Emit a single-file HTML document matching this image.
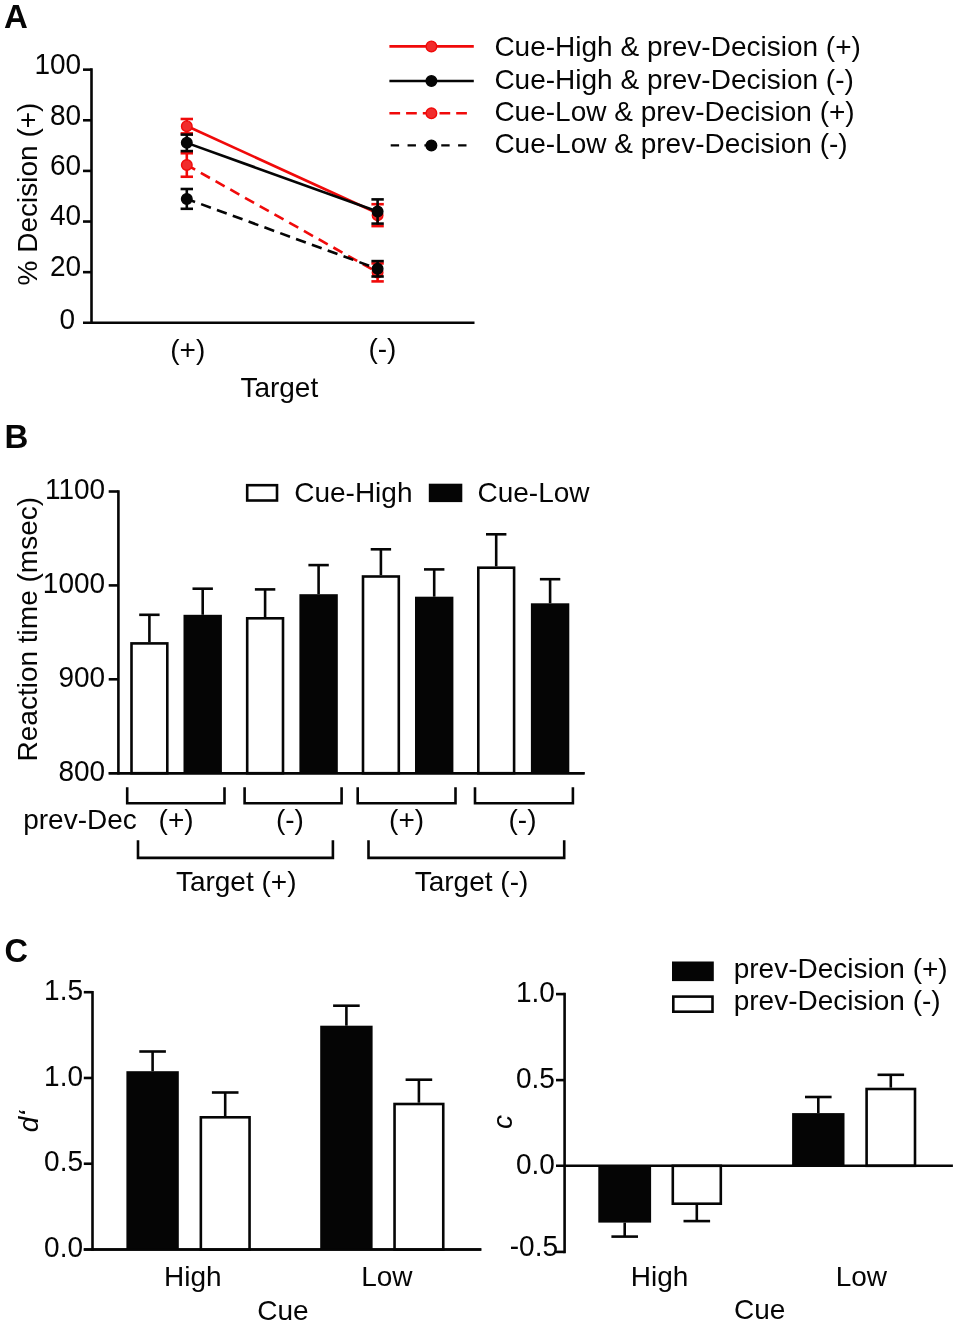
<!DOCTYPE html>
<html lang="en">
<head>
<meta charset="utf-8">
<title>Figure</title>
<style>
html,body{margin:0;padding:0;background:#fff;}
body{width:957px;height:1325px;overflow:hidden;}
svg{display:block;}
svg text{font-family:"Liberation Sans",Arial,Helvetica,sans-serif;font-size:28px;fill:#050505;}
</style>
</head>
<body>
<svg width="957" height="1325" viewBox="0 0 957 1325">
<rect x="0" y="0" width="957" height="1325" fill="#ffffff"/>
<text x="3.9" y="28.4" text-anchor="start" style="font-weight:bold;font-size:33px">A</text>
<line x1="91.5" y1="68.35000000000001" x2="91.5" y2="324.1" stroke="#050505" stroke-width="2.6" />
<line x1="83.0" y1="322.8" x2="474.5" y2="322.8" stroke="#050505" stroke-width="2.6" />
<line x1="83.0" y1="272.17" x2="91.5" y2="272.17" stroke="#050505" stroke-width="2.6" />
<line x1="83.0" y1="221.54000000000002" x2="91.5" y2="221.54000000000002" stroke="#050505" stroke-width="2.6" />
<line x1="83.0" y1="170.91000000000003" x2="91.5" y2="170.91000000000003" stroke="#050505" stroke-width="2.6" />
<line x1="83.0" y1="120.28" x2="91.5" y2="120.28" stroke="#050505" stroke-width="2.6" />
<line x1="83.0" y1="69.65" x2="91.5" y2="69.65" stroke="#050505" stroke-width="2.6" />
<text transform="translate(81.1 275.6) scale(1 1.04)" text-anchor="end">20</text>
<text transform="translate(81.1 225.2) scale(1 1.04)" text-anchor="end">40</text>
<text transform="translate(81.1 174.9) scale(1 1.04)" text-anchor="end">60</text>
<text transform="translate(81.1 124.7) scale(1 1.04)" text-anchor="end">80</text>
<text transform="translate(81.1 74.0) scale(1 1.04)" text-anchor="end">100</text>
<text transform="translate(75.2 329.1) scale(1 1.04)" text-anchor="end">0</text>
<text transform="translate(36.8 194.0) rotate(-90)" text-anchor="middle" >% Decision (+)</text>
<text x="187.8" y="358.7" text-anchor="middle" >(+)</text>
<text x="382.4" y="358.1" text-anchor="middle" >(-)</text>
<text x="279.3" y="397.0" text-anchor="middle" >Target</text>
<line x1="186.8" y1="126.0" x2="377.6" y2="213.3" stroke="#f00a0a" stroke-width="2.6" />
<line x1="186.8" y1="119.0" x2="186.8" y2="133.4" stroke="#f00a0a" stroke-width="2.6" />
<line x1="180.60000000000002" y1="119.0" x2="193.0" y2="119.0" stroke="#f00a0a" stroke-width="2.6" />
<line x1="180.60000000000002" y1="133.4" x2="193.0" y2="133.4" stroke="#f00a0a" stroke-width="2.6" />
<line x1="377.6" y1="204.20000000000002" x2="377.6" y2="226.1" stroke="#f00a0a" stroke-width="2.6" />
<line x1="371.40000000000003" y1="204.20000000000002" x2="383.8" y2="204.20000000000002" stroke="#f00a0a" stroke-width="2.6" />
<line x1="371.40000000000003" y1="226.1" x2="383.8" y2="226.1" stroke="#f00a0a" stroke-width="2.6" />
<circle cx="186.8" cy="126.2" r="5.3" fill="#f12c2c" stroke="#f00a0a" stroke-width="1.4"/>
<circle cx="377.6" cy="215.15" r="5.3" fill="#f12c2c" stroke="#f00a0a" stroke-width="1.4"/>
<line x1="186.8" y1="165.0" x2="377.6" y2="272.4" stroke="#f00a0a" stroke-width="2.6" stroke-dasharray="10.4 6.5" stroke-dashoffset="0.8"/>
<line x1="186.8" y1="153.25" x2="186.8" y2="176.75" stroke="#f00a0a" stroke-width="2.6" />
<line x1="180.60000000000002" y1="153.25" x2="193.0" y2="153.25" stroke="#f00a0a" stroke-width="2.6" />
<line x1="180.60000000000002" y1="176.75" x2="193.0" y2="176.75" stroke="#f00a0a" stroke-width="2.6" />
<line x1="377.6" y1="263.4" x2="377.6" y2="281.4" stroke="#f00a0a" stroke-width="2.6" />
<line x1="371.40000000000003" y1="263.4" x2="383.8" y2="263.4" stroke="#f00a0a" stroke-width="2.6" />
<line x1="371.40000000000003" y1="281.4" x2="383.8" y2="281.4" stroke="#f00a0a" stroke-width="2.6" />
<circle cx="186.8" cy="165.0" r="5.3" fill="#f12c2c" stroke="#f00a0a" stroke-width="1.4"/>
<circle cx="377.6" cy="272.4" r="5.3" fill="#f12c2c" stroke="#f00a0a" stroke-width="1.4"/>
<line x1="186.8" y1="142.85" x2="377.6" y2="211.5" stroke="#050505" stroke-width="2.6" />
<line x1="186.8" y1="134.6" x2="186.8" y2="151.1" stroke="#050505" stroke-width="2.6" />
<line x1="180.60000000000002" y1="134.6" x2="193.0" y2="134.6" stroke="#050505" stroke-width="2.6" />
<line x1="180.60000000000002" y1="151.1" x2="193.0" y2="151.1" stroke="#050505" stroke-width="2.6" />
<line x1="377.6" y1="199.4" x2="377.6" y2="223.6" stroke="#050505" stroke-width="2.6" />
<line x1="371.40000000000003" y1="199.4" x2="383.8" y2="199.4" stroke="#050505" stroke-width="2.6" />
<line x1="371.40000000000003" y1="223.6" x2="383.8" y2="223.6" stroke="#050505" stroke-width="2.6" />
<circle cx="186.8" cy="142.85" r="5.3" fill="#050505" stroke="#050505" stroke-width="1.4"/>
<circle cx="377.6" cy="211.5" r="5.3" fill="#050505" stroke="#050505" stroke-width="1.4"/>
<line x1="186.8" y1="198.9" x2="377.6" y2="268.8" stroke="#050505" stroke-width="2.6" stroke-dasharray="10.4 6.45" stroke-dashoffset="1.6"/>
<line x1="186.8" y1="189.0" x2="186.8" y2="208.8" stroke="#050505" stroke-width="2.6" />
<line x1="180.60000000000002" y1="189.0" x2="193.0" y2="189.0" stroke="#050505" stroke-width="2.6" />
<line x1="180.60000000000002" y1="208.8" x2="193.0" y2="208.8" stroke="#050505" stroke-width="2.6" />
<line x1="377.6" y1="261.1" x2="377.6" y2="276.5" stroke="#050505" stroke-width="2.6" />
<line x1="371.40000000000003" y1="261.1" x2="383.8" y2="261.1" stroke="#050505" stroke-width="2.6" />
<line x1="371.40000000000003" y1="276.5" x2="383.8" y2="276.5" stroke="#050505" stroke-width="2.6" />
<circle cx="186.8" cy="198.9" r="5.3" fill="#050505" stroke="#050505" stroke-width="1.4"/>
<circle cx="377.6" cy="268.8" r="5.3" fill="#050505" stroke="#050505" stroke-width="1.4"/>
<line x1="389.4" y1="46.4" x2="473.8" y2="46.4" stroke="#f00a0a" stroke-width="2.6" />
<circle cx="431.4" cy="46.4" r="5.3" fill="#f12c2c" stroke="#f00a0a" stroke-width="1.4"/>
<text x="494.4" y="56.3" text-anchor="start" >Cue-High &amp; prev-Decision (+)</text>
<line x1="389.4" y1="81.0" x2="473.8" y2="81.0" stroke="#050505" stroke-width="2.6" />
<circle cx="431.4" cy="81.0" r="5.3" fill="#050505" stroke="#050505" stroke-width="1.4"/>
<text x="494.4" y="88.7" text-anchor="start" >Cue-High &amp; prev-Decision (-)</text>
<line x1="389.4" y1="113.3" x2="470" y2="113.3" stroke="#f00a0a" stroke-width="2.6" stroke-dasharray="10.7 6"/>
<circle cx="431.4" cy="113.3" r="5.3" fill="#f12c2c" stroke="#f00a0a" stroke-width="1.4"/>
<text x="494.4" y="120.9" text-anchor="start" >Cue-Low &amp; prev-Decision (+)</text>
<line x1="390.7" y1="145.4" x2="470" y2="145.4" stroke="#050505" stroke-width="2.2" stroke-dasharray="8.4 8.45"/>
<circle cx="431.4" cy="145.4" r="5.3" fill="#050505" stroke="#050505" stroke-width="1.4"/>
<text x="494.4" y="152.5" text-anchor="start" >Cue-Low &amp; prev-Decision (-)</text>
<text x="4.4" y="448.1" text-anchor="start" style="font-weight:bold;font-size:33px">B</text>
<line x1="118.4" y1="490.2" x2="118.4" y2="774.5" stroke="#050505" stroke-width="2.6" />
<line x1="108.7" y1="773.2" x2="584.6" y2="773.2" stroke="#050505" stroke-width="2.6" />
<line x1="108.7" y1="679.3000000000001" x2="118.4" y2="679.3000000000001" stroke="#050505" stroke-width="2.6" />
<line x1="108.7" y1="585.4000000000001" x2="118.4" y2="585.4000000000001" stroke="#050505" stroke-width="2.6" />
<line x1="108.7" y1="491.5" x2="118.4" y2="491.5" stroke="#050505" stroke-width="2.6" />
<text transform="translate(105.1 780.6) scale(1 1.04)" text-anchor="end">800</text>
<text transform="translate(105.1 686.7) scale(1 1.04)" text-anchor="end">900</text>
<text transform="translate(105.1 592.8) scale(1 1.04)" text-anchor="end">1000</text>
<text transform="translate(105.1 498.9) scale(1 1.04)" text-anchor="end">1100</text>
<text transform="translate(37.3 629.2) rotate(-90)" text-anchor="middle" >Reaction time (msec)</text>
<line x1="149.4" y1="614.8" x2="149.4" y2="642.1" stroke="#050505" stroke-width="2.6" />
<line x1="139.20000000000002" y1="614.8" x2="159.6" y2="614.8" stroke="#050505" stroke-width="2.6" />
<rect x="131.50" y="643.40" width="35.80" height="129.80" fill="#fff" stroke="#050505" stroke-width="2.6"/>
<line x1="202.70000000000002" y1="588.7" x2="202.70000000000002" y2="614.8" stroke="#050505" stroke-width="2.6" />
<line x1="192.50000000000003" y1="588.7" x2="212.9" y2="588.7" stroke="#050505" stroke-width="2.6" />
<rect x="183.50" y="614.80" width="38.40" height="158.40" fill="#050505"/>
<line x1="265.09999999999997" y1="589.4" x2="265.09999999999997" y2="617.0" stroke="#050505" stroke-width="2.6" />
<line x1="254.89999999999998" y1="589.4" x2="275.29999999999995" y2="589.4" stroke="#050505" stroke-width="2.6" />
<rect x="247.20" y="618.30" width="35.80" height="154.90" fill="#fff" stroke="#050505" stroke-width="2.6"/>
<line x1="318.59999999999997" y1="565.1" x2="318.59999999999997" y2="594.2" stroke="#050505" stroke-width="2.6" />
<line x1="308.4" y1="565.1" x2="328.79999999999995" y2="565.1" stroke="#050505" stroke-width="2.6" />
<rect x="299.40" y="594.20" width="38.40" height="179.00" fill="#050505"/>
<line x1="380.9" y1="549.3" x2="380.9" y2="575.2" stroke="#050505" stroke-width="2.6" />
<line x1="370.7" y1="549.3" x2="391.09999999999997" y2="549.3" stroke="#050505" stroke-width="2.6" />
<rect x="363.00" y="576.50" width="35.80" height="196.70" fill="#fff" stroke="#050505" stroke-width="2.6"/>
<line x1="434.2" y1="569.4" x2="434.2" y2="596.7" stroke="#050505" stroke-width="2.6" />
<line x1="424.0" y1="569.4" x2="444.4" y2="569.4" stroke="#050505" stroke-width="2.6" />
<rect x="415.00" y="596.70" width="38.40" height="176.50" fill="#050505"/>
<line x1="496.2" y1="534.3" x2="496.2" y2="566.4" stroke="#050505" stroke-width="2.6" />
<line x1="486.0" y1="534.3" x2="506.4" y2="534.3" stroke="#050505" stroke-width="2.6" />
<rect x="478.30" y="567.70" width="35.80" height="205.50" fill="#fff" stroke="#050505" stroke-width="2.6"/>
<line x1="550.1" y1="579.2" x2="550.1" y2="603.3" stroke="#050505" stroke-width="2.6" />
<line x1="539.9" y1="579.2" x2="560.3000000000001" y2="579.2" stroke="#050505" stroke-width="2.6" />
<rect x="530.90" y="603.30" width="38.40" height="169.90" fill="#050505"/>
<line x1="108.7" y1="773.2" x2="584.6" y2="773.2" stroke="#050505" stroke-width="2.6" />
<rect x="247.2" y="485.2" width="29.8" height="15.3" fill="#fff" stroke="#050505" stroke-width="2.6"/>
<text x="294.2" y="502.2" text-anchor="start" >Cue-High</text>
<rect x="428.8" y="483.7" width="33.5" height="18.4" fill="#050505"/>
<text x="477.5" y="502.2" text-anchor="start" >Cue-Low</text>
<polyline points="127.2,787.2 127.2,803.3 224.5,803.3 224.5,787.2" fill="none" stroke="#050505" stroke-width="2.6"/>
<polyline points="244.6,787.2 244.6,803.3 341.6,803.3 341.6,787.2" fill="none" stroke="#050505" stroke-width="2.6"/>
<polyline points="357.7,787.2 357.7,803.3 455.5,803.3 455.5,787.2" fill="none" stroke="#050505" stroke-width="2.6"/>
<polyline points="475.0,787.2 475.0,803.3 572.9,803.3 572.9,787.2" fill="none" stroke="#050505" stroke-width="2.6"/>
<polyline points="138.0,840.2 138.0,857.9 332.9,857.9 332.9,840.2" fill="none" stroke="#050505" stroke-width="2.6"/>
<polyline points="368.5,840.2 368.5,857.9 564.2,857.9 564.2,840.2" fill="none" stroke="#050505" stroke-width="2.6"/>
<text x="23.2" y="829.1" text-anchor="start" >prev-Dec</text>
<text x="176.1" y="829.1" text-anchor="middle" >(+)</text>
<text x="289.9" y="829.1" text-anchor="middle" >(-)</text>
<text x="406.6" y="829.1" text-anchor="middle" >(+)</text>
<text x="522.5" y="829.1" text-anchor="middle" >(-)</text>
<text x="236.2" y="891.0" text-anchor="middle" >Target (+)</text>
<text x="471.5" y="891.0" text-anchor="middle" >Target (-)</text>
<text x="4.5" y="962.3" text-anchor="start" style="font-weight:bold;font-size:32.5px">C</text>
<line x1="92.5" y1="990.9000000000001" x2="92.5" y2="1250.8" stroke="#050505" stroke-width="2.6" />
<line x1="83.8" y1="1249.5" x2="481.3" y2="1249.5" stroke="#050505" stroke-width="2.6" />
<line x1="83.8" y1="1163.7333333333333" x2="92.5" y2="1163.7333333333333" stroke="#050505" stroke-width="2.6" />
<line x1="83.8" y1="1077.9666666666667" x2="92.5" y2="1077.9666666666667" stroke="#050505" stroke-width="2.6" />
<line x1="83.8" y1="992.2" x2="92.5" y2="992.2" stroke="#050505" stroke-width="2.6" />
<text transform="translate(83.0 1257.3) scale(1 1.04)" text-anchor="end">0.0</text>
<text transform="translate(83.0 1171.4) scale(1 1.04)" text-anchor="end">0.5</text>
<text transform="translate(83.0 1085.5) scale(1 1.04)" text-anchor="end">1.0</text>
<text transform="translate(83.0 999.6) scale(1 1.04)" text-anchor="end">1.5</text>
<text transform="translate(37.6 1121.4) rotate(-90)" text-anchor="middle" style="font-style:italic">d‘</text>
<line x1="152.6" y1="1051.5" x2="152.6" y2="1071.2" stroke="#050505" stroke-width="2.6" />
<line x1="139.29999999999998" y1="1051.5" x2="165.9" y2="1051.5" stroke="#050505" stroke-width="2.6" />
<rect x="126.40" y="1071.20" width="52.40" height="178.30" fill="#050505"/>
<line x1="225.2" y1="1092.5" x2="225.2" y2="1116.0" stroke="#050505" stroke-width="2.6" />
<line x1="211.89999999999998" y1="1092.5" x2="238.5" y2="1092.5" stroke="#050505" stroke-width="2.6" />
<rect x="200.85" y="1117.30" width="48.70" height="132.20" fill="#fff" stroke="#050505" stroke-width="2.6"/>
<line x1="346.4" y1="1005.7" x2="346.4" y2="1025.7" stroke="#050505" stroke-width="2.6" />
<line x1="333.09999999999997" y1="1005.7" x2="359.7" y2="1005.7" stroke="#050505" stroke-width="2.6" />
<rect x="320.20" y="1025.70" width="52.40" height="223.80" fill="#050505"/>
<line x1="418.9" y1="1079.7" x2="418.9" y2="1102.7" stroke="#050505" stroke-width="2.6" />
<line x1="405.59999999999997" y1="1079.7" x2="432.2" y2="1079.7" stroke="#050505" stroke-width="2.6" />
<rect x="394.55" y="1104.00" width="48.70" height="145.50" fill="#fff" stroke="#050505" stroke-width="2.6"/>
<line x1="83.8" y1="1249.5" x2="481.3" y2="1249.5" stroke="#050505" stroke-width="2.6" />
<text x="192.8" y="1286.2" text-anchor="middle" >High</text>
<text x="386.9" y="1285.7" text-anchor="middle" >Low</text>
<text x="283.0" y="1319.8" text-anchor="middle" >Cue</text>
<line x1="564.6" y1="992.8000000000001" x2="564.6" y2="1253.2" stroke="#050505" stroke-width="2.6" />
<line x1="556.0" y1="994.1" x2="564.6" y2="994.1" stroke="#050505" stroke-width="2.6" />
<line x1="556.0" y1="1080.1" x2="564.6" y2="1080.1" stroke="#050505" stroke-width="2.6" />
<line x1="556.0" y1="1251.9" x2="564.6" y2="1251.9" stroke="#050505" stroke-width="2.6" />
<text transform="translate(554.9 1001.8) scale(1 1.04)" text-anchor="end">1.0</text>
<text transform="translate(554.9 1088.2) scale(1 1.04)" text-anchor="end">0.5</text>
<text transform="translate(554.9 1173.8) scale(1 1.04)" text-anchor="end">0.0</text>
<text transform="translate(558.0 1255.6) scale(1 1.04)" text-anchor="end">-0.5</text>
<text transform="translate(512.0 1122.0) rotate(-90)" text-anchor="middle" style="font-style:italic">c</text>
<line x1="624.7" y1="1222.6" x2="624.7" y2="1236.6" stroke="#050505" stroke-width="2.6" />
<line x1="611.4000000000001" y1="1236.6" x2="638.0" y2="1236.6" stroke="#050505" stroke-width="2.6" />
<rect x="598.30" y="1165.80" width="52.80" height="56.80" fill="#050505"/>
<line x1="696.8" y1="1205.0" x2="696.8" y2="1221.1" stroke="#050505" stroke-width="2.6" />
<line x1="683.5" y1="1221.1" x2="710.0999999999999" y2="1221.1" stroke="#050505" stroke-width="2.6" />
<rect x="672.80" y="1165.80" width="48.00" height="37.90" fill="#fff" stroke="#050505" stroke-width="2.6"/>
<line x1="818.3" y1="1097.0" x2="818.3" y2="1113.1" stroke="#050505" stroke-width="2.6" />
<line x1="805.0" y1="1097.0" x2="831.5999999999999" y2="1097.0" stroke="#050505" stroke-width="2.6" />
<rect x="792.10" y="1113.10" width="52.40" height="52.70" fill="#050505"/>
<line x1="890.8" y1="1074.8" x2="890.8" y2="1087.7" stroke="#050505" stroke-width="2.6" />
<line x1="877.5" y1="1074.8" x2="904.0999999999999" y2="1074.8" stroke="#050505" stroke-width="2.6" />
<rect x="866.60" y="1089.00" width="48.40" height="76.80" fill="#fff" stroke="#050505" stroke-width="2.6"/>
<line x1="556.0" y1="1165.8" x2="952.9" y2="1165.8" stroke="#050505" stroke-width="2.6" />
<text x="659.6" y="1286.2" text-anchor="middle" >High</text>
<text x="861.4" y="1285.6" text-anchor="middle" >Low</text>
<text x="759.6" y="1319.3" text-anchor="middle" >Cue</text>
<rect x="672.0" y="961.5" width="41.8" height="19.6" fill="#050505"/>
<rect x="673.3" y="996.6" width="39.2" height="15.1" fill="#fff" stroke="#050505" stroke-width="2.6"/>
<text x="733.7" y="977.8" text-anchor="start" >prev-Decision (+)</text>
<text x="733.7" y="1010.4" text-anchor="start" >prev-Decision (-)</text>
</svg>
</body>
</html>
